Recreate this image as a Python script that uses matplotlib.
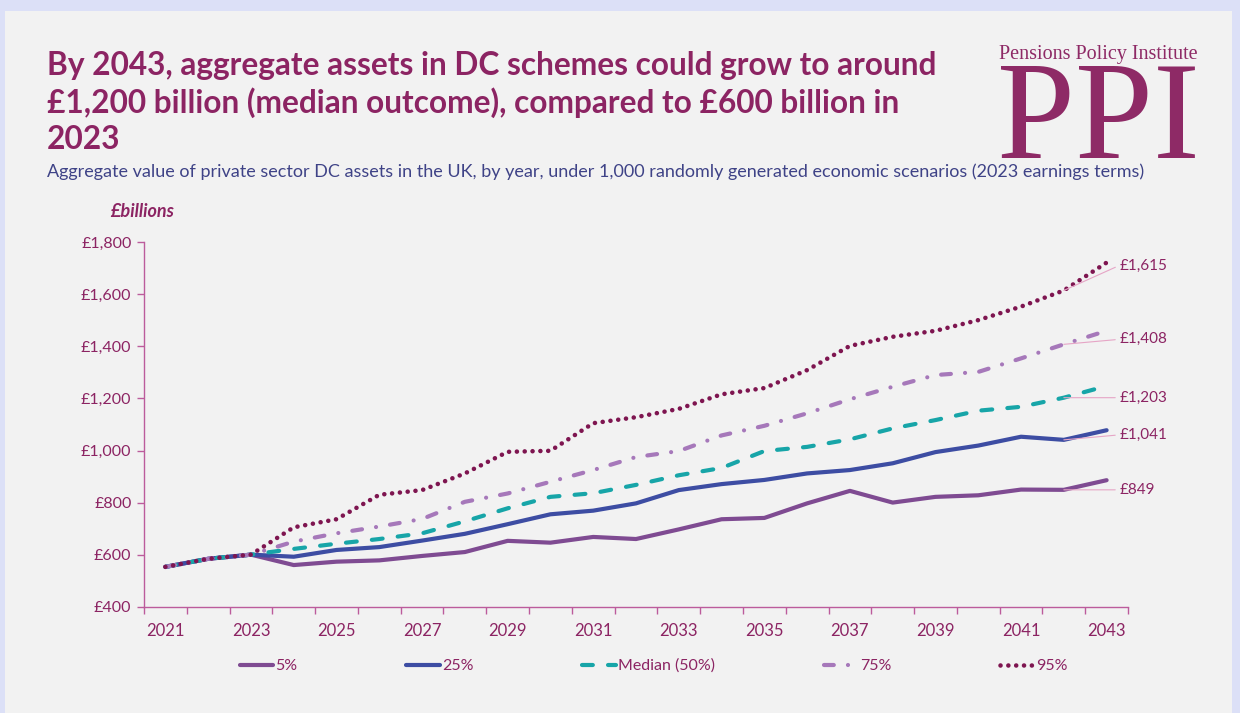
import matplotlib.pyplot as plt
from matplotlib.patches import Rectangle
from matplotlib.ticker import FixedLocator, FuncFormatter

# Aggregate private sector DC assets, £bn (2023 earnings terms)
YEARS = list(range(2021, 2044))
P5 = [553, 584, 600, 560, 573, 578, 595, 610, 653, 646, 668, 660, 697, 736, 741,
      797, 845, 800, 822, 828, 850, 849, 886]
P25 = [553, 584, 600, 592, 618, 629, 654, 680, 717, 755, 769, 797, 848, 871, 887,
       912, 925, 951, 994, 1019, 1053, 1041, 1078]
P50 = [553, 584, 600, 622, 642, 660, 682, 728, 778, 822, 836, 868, 905, 933, 998,
       1014, 1043, 1085, 1117, 1153, 1168, 1203, 1248]
P75 = [553, 584, 600, 650, 682, 708, 737, 803, 835, 880, 925, 975, 998, 1058, 1095,
       1143, 1197, 1245, 1290, 1302, 1354, 1408, 1460]
P95 = [553, 584, 600, 705, 736, 830, 848, 912, 995, 999, 1105, 1128, 1160, 1216, 1240,
       1309, 1402, 1437, 1460, 1501, 1553, 1615, 1722]
LABELS = ["5%", "25%", "Median (50%)", "75%", "95%"]
LABEL_YEAR = 2042

PLUM = "#8C2463"
AXIS = "#BC5C9C"
COLORS = ["#7F4B92", "#3D4DA3", "#17A5A8", "#A678BA", "#7E1550"]
STYLES = [
    "-",
    "-",
    (0, (2.6, 3.65)),
    (0, (2.35, 3.4, 0.01, 3.4)),
    (0, (0.01, 1.7)),
]
WIDTHS = [3.0, 3.0, 3.0, 3.0, 3.3]
# label offsets from the 2042 point, in points
LABEL_DY = [0, 3.6, 0, 3.6, 18]

plt.rcParams["font.family"] = ["Lato", "DejaVu Sans"]

fig = plt.figure(figsize=(12.4, 7.13), dpi=100, facecolor="#DCE0F7")
fig.add_artist(Rectangle((5 / 1240, 0), 1227 / 1240, 702 / 713,
                         transform=fig.transFigure, facecolor="#F2F2F2",
                         edgecolor="none", zorder=-5))

fig.text(47 / 1240, 1 - 51 / 713,
         "By 2043, aggregate assets in DC schemes could grow to around\n"
         "£1,200 billion (median outcome), compared to £600 billion in\n"
         "2023",
         ha="left", va="top", fontsize=22.8, fontweight="bold", color=PLUM,
         linespacing=1.28)
fig.text(47 / 1240, 1 - 172 / 713,
         "Aggregate value of private sector DC assets in the UK, by year, under 1,000 "
         "randomly generated economic scenarios (2023 earnings terms)",
         ha="left", va="center", fontsize=13, color="#3F4387")

# logo
fig.text(1098 / 1240, 1 - 54 / 713, "Pensions Policy Institute", ha="center",
         va="center", fontsize=14.5, color="#8E2A66", family="Liberation Serif")
fig.text(1098 / 1240, 1 - 158 / 713, "PPI", ha="center", va="baseline",
         fontsize=101, color="#8E2A66", family="Liberation Serif")

fig.text(110 / 1240, 1 - 211 / 713, "£billions", ha="left", va="center",
         fontsize=13, fontweight="bold", fontstyle="italic", color=PLUM)

ax = fig.add_axes([144 / 1240, 1 - 606.7 / 713, 984 / 1240, 364.4 / 713])
ax.set_facecolor("none")

series = [P5, P25, P50, P75, P95]
for values, label, color, style, lw in zip(series, LABELS, COLORS, STYLES, WIDTHS):
    ax.plot(YEARS, values, color=color, linestyle=style, linewidth=lw, label=label,
            dash_capstyle="round", solid_capstyle="round", solid_joinstyle="round")

idx = YEARS.index(LABEL_YEAR)
for values, dy in zip(series, LABEL_DY):
    v = values[idx]
    ax.annotate(f"£{v:,.0f}", xy=(LABEL_YEAR, v), xytext=(40, dy),
                textcoords="offset points", ha="left", va="center", fontsize=11,
                color=PLUM,
                arrowprops=dict(arrowstyle="-", color="#E6A5C6", lw=0.8,
                                relpos=(0, 0.5), shrinkA=1, shrinkB=0))

ax.set_xlim(YEARS[0] - 0.5, YEARS[-1] + 0.5)
ax.set_ylim(400, 1800)
ax.yaxis.set_major_locator(FixedLocator(range(400, 1801, 200)))
ax.yaxis.set_major_formatter(FuncFormatter(lambda v, _: f"£{v:,.0f}"))
ax.xaxis.set_major_locator(FixedLocator(YEARS[::2]))
ax.xaxis.set_minor_locator(FixedLocator([y - 0.5 for y in YEARS] + [YEARS[-1] + 0.5]))
ax.tick_params(axis="x", which="major", length=0, pad=12, labelsize=12, labelcolor=PLUM)
ax.tick_params(axis="x", which="minor", length=5, width=1, color=AXIS)
ax.tick_params(axis="y", length=5, width=1, color=AXIS, labelsize=11.5,
               labelcolor=PLUM, pad=4)
for side in ["top", "right"]:
    ax.spines[side].set_visible(False)
for side in ["left", "bottom"]:
    ax.spines[side].set_color(AXIS)
    ax.spines[side].set_linewidth(1)

fig.legend(loc="center", bbox_to_anchor=(0.527, 1 - 666 / 713), ncol=5,
           frameon=False, fontsize=11.5, labelcolor=PLUM, handlelength=2.1,
           handletextpad=0.15, columnspacing=6.8)

fig.savefig("out.png", dpi=100, facecolor=fig.get_facecolor())
